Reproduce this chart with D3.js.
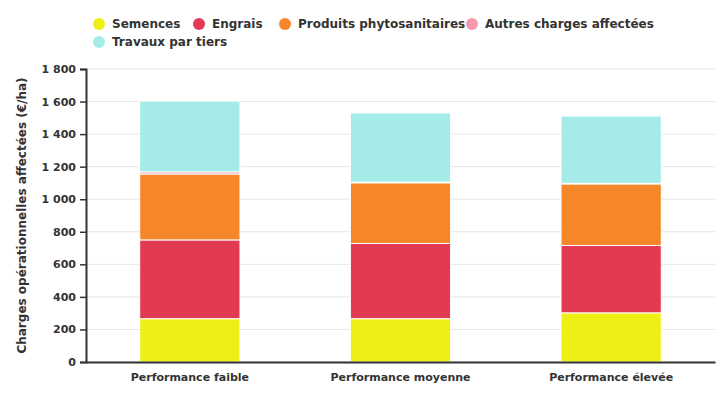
<!DOCTYPE html>
<html><head><meta charset="utf-8">
<script src="https://cdn.jsdelivr.net/npm/d3@7"></script>
<style>body{margin:0;background:#fff;font-family:"DejaVu Sans",sans-serif;}</style>
</head><body>
<svg id="c" width="725" height="400"></svg>
<script>
const categories = ["Performance faible","Performance moyenne","Performance élevée"];
const seriesNames = ["Semences","Engrais","Produits phytosanitaires","Autres charges affectées","Travaux par tiers"];
const semences = [266, 266, 302];
const engrais = [484, 462, 414];
const phyto = [405, 373, 378];
const autres = [13, 4, 4];
const travaux = [435, 425, 413];
const colors = ["#EFEF15","#E23A53","#F5872A","#F49AAC","#A5ECE8"];
const yTicks = [0,200,400,600,800,1000,1200,1400,1600,1800];

const seriesValues = [semences, engrais, phyto, autres, travaux];
const rows = categories.map((c,i)=>{const r={cat:c}; seriesNames.forEach((s,j)=>r[s]=seriesValues[j][i]); return r;});
const stacked = d3.stack().keys(seriesNames)(rows);

const svg = d3.select("#c");
const m = {l:86, r:10, t:69, b:38};
const W = 725, H = 400;
const x = d3.scaleBand().domain(categories).range([m.l, W-m.r]).paddingInner(0.524).paddingOuter(0.255);
const y = d3.scaleLinear().domain([0,1800]).range([H-m.b, m.t]);
const fmt = v => d3.format(",")(v).replace(/,/g," ");

// grid
svg.append("g").selectAll("line").data(yTicks).join("line")
  .attr("x1", m.l).attr("x2", W-m.r).attr("y1", d=>y(d)).attr("y2", d=>y(d))
  .attr("stroke","#e6e6e6").attr("stroke-width",1);

// bars
svg.append("g").selectAll("g").data(stacked).join("g")
  .attr("fill",(d,i)=>colors[i])
  .selectAll("rect").data(d=>d).join("rect")
  .attr("x", d=>x(d.data.cat)).attr("width", x.bandwidth())
  .attr("y", d=>y(d[1])).attr("height", d=>Math.max(0,y(d[0])-y(d[1])))
  .attr("stroke","#fff").attr("stroke-width",1);

// y axis
const ya = svg.append("g").attr("transform",`translate(${m.l},0)`)
  .call(d3.axisLeft(y).tickValues(yTicks).tickFormat(fmt).tickSize(6).tickPadding(4));
ya.select(".domain").attr("stroke","#333").attr("stroke-width",2);
ya.selectAll(".tick line").attr("stroke","#333").attr("stroke-width",1.5);
ya.selectAll("text").attr("font-family","DejaVu Sans").attr("font-weight","bold").attr("font-size",11).attr("fill","#333");

// x axis
const xa = svg.append("g").attr("transform",`translate(0,${H-m.b})`)
  .call(d3.axisBottom(x).tickSize(0).tickPadding(11));
xa.select(".domain").attr("stroke","#333").attr("stroke-width",2);
xa.selectAll("text").attr("font-family","DejaVu Sans").attr("font-weight","bold").attr("font-size",11).attr("fill","#333");

// y title
svg.append("text").attr("transform",`translate(26,${(m.t+H-m.b)/2}) rotate(-90)`)
  .attr("text-anchor","middle").attr("font-weight","bold").attr("font-size",12).attr("fill","#333")
  .text("Charges opérationnelles affectées (€/ha)");

// legend
const legendPos = [[99,24],[199,24],[285,24],[472,24],[99,42]];
const lg = svg.append("g").selectAll("g").data(seriesNames).join("g")
  .attr("transform",(d,i)=>`translate(${legendPos[i][0]},${legendPos[i][1]})`);
lg.append("circle").attr("r",6).attr("fill",(d,i)=>colors[i]);
lg.append("text").attr("x",13).attr("dy","0.35em").attr("font-weight","bold").attr("font-size",12).attr("fill","#333").text(d=>d);
</script>
</body></html>
